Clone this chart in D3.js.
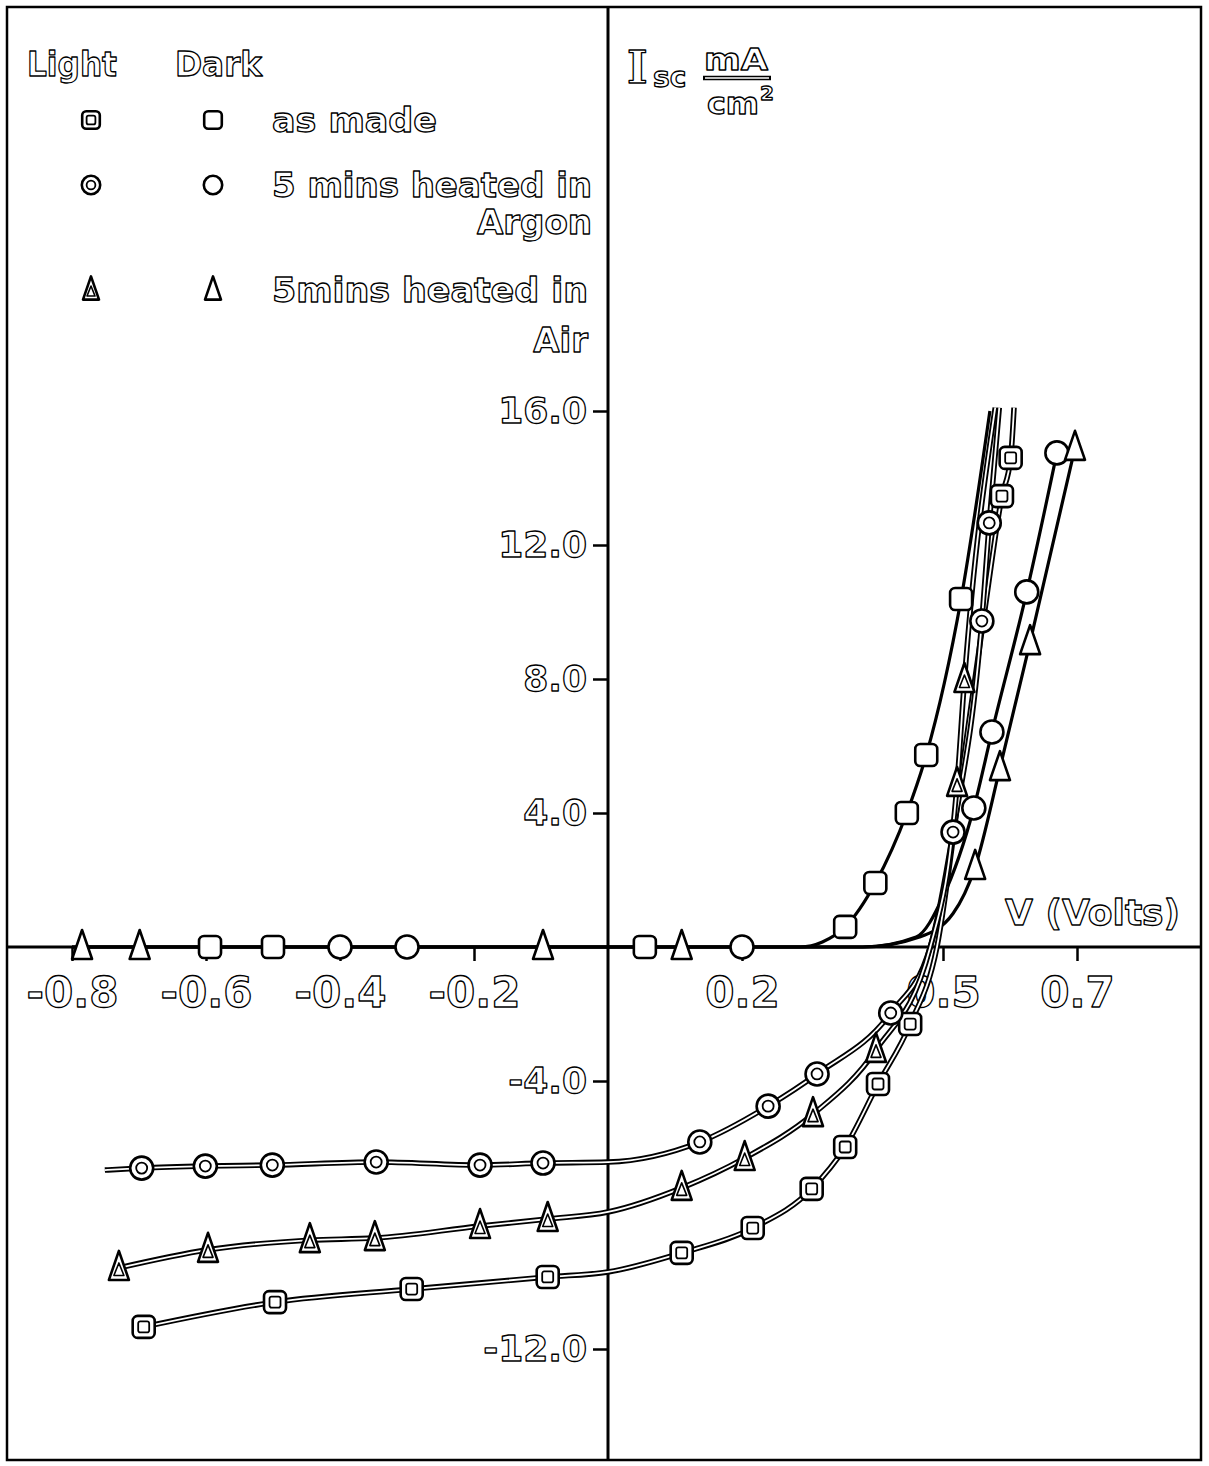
<!DOCTYPE html>
<html><head><meta charset="utf-8">
<script src="https://cdn.jsdelivr.net/npm/d3@7"></script>
<style>
body{margin:0;background:#fff;}
svg{display:block;}
.t{font-family:"DejaVu Sans",sans-serif;font-weight:bold;fill:#fff;stroke:#000;stroke-width:1.3px;stroke-linejoin:round;}
</style></head><body>
<svg id="c" width="1209" height="1466"></svg>
<script>
// ---------- data (V in volts, I in mA/cm^2) ----------
const xTicks = [-0.8, -0.6, -0.4, -0.2, 0.2, 0.5, 0.7];
const xTickLabels = ["-0.8", "-0.6", "-0.4", "-0.2", "0.2", "0.5", "0.7"];
const yTicks = [16, 12, 8, 4, -4, -12];
const yTickLabels = ["16.0", "12.0", "8.0", "4.0", "-4.0", "-12.0"];

const legendTitles = ["Light", "Dark"];
const legendLabels = ["as made", "5 mins heated in", "5mins heated in"];
const legendLabels2 = ["", "Argon", "Air"];

// Dark, as made (squares)
const darkMadeV = [-0.8, -0.594, -0.500, 0.055, 0.287, 0.320, 0.354, 0.399, 0.446, 0.475, 0.527, 0.570];
const darkMadeI = [0, 0, 0, 0, 0, 0.15, 0.60, 1.91, 4.00, 5.73, 10.39, 16.0];
const darkMadeM = [0, 1, 1, 1, 0, 0, 1, 1, 1, 1, 1, 0];
// Dark, 5 min argon (circles)
const darkArgonV = [-0.8, -0.400, -0.300, 0.200, 0.380, 0.460, 0.500, 0.546, 0.573, 0.625, 0.670];
const darkArgonI = [0, 0, 0, 0, 0, 0.3, 1.5, 4.15, 6.42, 10.6, 14.75];
const darkArgonM = [0, 1, 1, 1, 0, 0, 0, 1, 1, 1, 1];
// Dark, 5 min air (triangles)
const darkAirV = [-0.785, -0.699, -0.097, 0.110, 0.380, 0.465, 0.515, 0.548, 0.585, 0.630, 0.697];
const darkAirI = [0, 0, 0, 0, 0, 0.3, 1.0, 2.39, 5.34, 9.10, 14.9];
const darkAirM = [1, 1, 1, 1, 0, 0, 0, 1, 1, 1, 1];
// Light, as made (squares)
const lightMadeV = [-0.693, -0.497, -0.293, -0.090, 0, 0.110, 0.216, 0.304, 0.354, 0.403, 0.451, 0.491, 0.530, 0.562, 0.588, 0.601, 0.606];
const lightMadeI = [-11.34, -10.60, -10.21, -9.85, -9.70, -9.13, -8.39, -7.22, -5.97, -4.09, -2.30, 0, 5.5, 10.0, 13.46, 14.6, 16.1];
const lightMadeM = [1, 1, 1, 1, 0, 1, 1, 1, 1, 1, 1, 0, 0, 0, 1, 1, 0];
// Light, 5 min argon (circles)
const lightArgonV = [-0.751, -0.696, -0.601, -0.501, -0.346, -0.191, -0.097, 0, 0.137, 0.239, 0.312, 0.422, 0.481, 0.515, 0.558, 0.569, 0.584];
const lightArgonI = [-6.66, -6.60, -6.54, -6.51, -6.42, -6.51, -6.45, -6.42, -5.82, -4.75, -3.79, -1.97, 0, 3.43, 9.73, 12.66, 16.1];
const lightArgonM = [0, 1, 1, 1, 1, 1, 1, 0, 1, 1, 1, 1, 0, 1, 1, 1, 0];
// Light, 5 min air (triangles)
const lightAirV = [-0.730, -0.597, -0.445, -0.348, -0.191, -0.090, 0, 0.110, 0.204, 0.306, 0.400, 0.481, 0.521, 0.532, 0.578];
const lightAirI = [-9.58, -9.04, -8.75, -8.69, -8.33, -8.12, -7.91, -7.19, -6.30, -4.99, -3.07, 0, 4.87, 7.97, 16.1];
const lightAirM = [1, 1, 1, 1, 1, 1, 0, 1, 1, 1, 1, 0, 1, 1, 0];

const series = [
  {shape: "square", light: false, V: darkMadeV, I: darkMadeI, M: darkMadeM},
  {shape: "circle", light: false, V: darkArgonV, I: darkArgonI, M: darkArgonM},
  {shape: "triangle", light: false, V: darkAirV, I: darkAirI, M: darkAirM},
  {shape: "square", light: true, V: lightMadeV, I: lightMadeI, M: lightMadeM},
  {shape: "circle", light: true, V: lightArgonV, I: lightArgonI, M: lightArgonM},
  {shape: "triangle", light: true, V: lightAirV, I: lightAirI, M: lightAirM}
];

// ---------- drawing ----------
const svg = d3.select("#c");
const x = d3.scaleLinear().domain([-0.8, 0.7]).range([72, 1077]);
const y = d3.scaleLinear().domain([-12, 16]).range([1349, 411]);
const X0 = x(0), Y0 = y(0);

// frame
svg.append("rect").attr("x", 7).attr("y", 7).attr("width", 1194).attr("height", 1453)
  .attr("fill", "none").attr("stroke", "#000").attr("stroke-width", 2.5);

// axes lines through whole frame
svg.append("line").attr("x1", X0).attr("x2", X0).attr("y1", 7).attr("y2", 1460)
  .attr("stroke", "#000").attr("stroke-width", 3);
svg.append("line").attr("x1", 7).attr("x2", 1201).attr("y1", Y0).attr("y2", Y0)
  .attr("stroke", "#000").attr("stroke-width", 3);

// y axis ticks + labels
const yAxis = d3.axisLeft(y).tickValues(yTicks).tickSize(15).tickPadding(6)
  .tickFormat((d, i) => yTickLabels[i]);
const gy = svg.append("g").attr("transform", `translate(${X0},0)`).call(yAxis);
gy.select(".domain").remove();
gy.selectAll(".tick line").attr("stroke", "#000").attr("stroke-width", 2.5);
gy.selectAll(".tick text").attr("class", "t").style("font-size", "36px");

// x axis ticks + labels
const xAxis = d3.axisBottom(x).tickValues(xTicks).tickSize(14).tickPadding(16)
  .tickFormat((d, i) => xTickLabels[i]);
const gx = svg.append("g").attr("transform", `translate(0,${Y0})`).call(xAxis);
gx.select(".domain").remove();
gx.selectAll(".tick line").attr("stroke", "#000").attr("stroke-width", 2.5);
gx.selectAll(".tick text").attr("class", "t").style("font-size", "42px");

// curves
const line = d3.line().x(d => x(d[0])).y(d => y(d[1])).curve(d3.curveMonotoneX);
series.forEach(s => {
  const pts = s.V.map((v, i) => [v, s.I[i]]);
  if (s.light) {
    svg.append("path").attr("d", line(pts)).attr("fill", "none")
      .attr("stroke", "#000").attr("stroke-width", 5.5).attr("stroke-linejoin", "round");
    svg.append("path").attr("d", line(pts)).attr("fill", "none")
      .attr("stroke", "#fff").attr("stroke-width", 1.8);
  } else {
    svg.append("path").attr("d", line(pts)).attr("fill", "none")
      .attr("stroke", "#000").attr("stroke-width", 3.2);
  }
});

// markers
function marker(g, shape, cx, cy, inner, k) {
  k = k || 1;
  const gg = g.append("g").attr("transform", `translate(${cx},${cy})`);
  const st = (sel, w) => sel.attr("fill", "#fff").attr("stroke", "#000").attr("stroke-width", w).attr("stroke-linejoin", "round");
  if (shape === "square") {
    st(gg.append("rect").attr("x", -11 * k).attr("y", -11 * k).attr("width", 22 * k).attr("height", 22 * k).attr("rx", 5 * k), 2.6);
    if (inner) st(gg.append("rect").attr("x", -5.5 * k).attr("y", -5.5 * k).attr("width", 11 * k).attr("height", 11 * k).attr("rx", 2), 1.8);
  } else if (shape === "circle") {
    st(gg.append("circle").attr("r", 11.5 * k), 2.6);
    if (inner) st(gg.append("circle").attr("r", 5.5 * k), 1.8);
  } else {
    st(gg.append("path").attr("d", `M0,${-17 * k}L${10 * k},${12 * k}L${-10 * k},${12 * k}Z`), 2.6);
    if (inner) st(gg.append("path").attr("d", `M0,${-5 * k}L${5 * k},${7.5 * k}L${-5 * k},${7.5 * k}Z`), 1.6);
  }
}
const gm = svg.append("g");
series.forEach(s => {
  s.V.forEach((v, i) => {
    if (s.M[i]) marker(gm, s.shape, x(v), y(s.I[i]), s.light, 1);
  });
});

// legend
const tg = svg.append("g");
tg.append("text").attr("class", "t").attr("x", 27).attr("y", 76).style("font-size", "34px")
  .attr("textLength", 90).attr("lengthAdjust", "spacingAndGlyphs").text(legendTitles[0]);
tg.append("text").attr("class", "t").attr("x", 175).attr("y", 76).style("font-size", "34px")
  .attr("textLength", 87).attr("lengthAdjust", "spacingAndGlyphs").text(legendTitles[1]);

const legShapes = ["square", "circle", "triangle"];
const legY = [120, 185, 290];
const legTextW = [165, 320, 316];
const legTextRight = [0, 592, 588];
const leg2Y = [0, 234, 352];
legShapes.forEach((sh, i) => {
  marker(tg, sh, 91, legY[i], true, 0.8);
  marker(tg, sh, 213, legY[i], false, 0.8);
  tg.append("text").attr("class", "t").attr("x", 272).attr("y", legY[i] + 12).style("font-size", "34px")
    .attr("textLength", legTextW[i]).attr("lengthAdjust", "spacingAndGlyphs").text(legendLabels[i]);
  if (legendLabels2[i]) {
    tg.append("text").attr("class", "t").attr("x", legTextRight[i]).attr("y", leg2Y[i])
      .attr("text-anchor", "end").style("font-size", "34px").text(legendLabels2[i]);
  }
});

// y-axis title: I_sc mA/cm^2
const yt = svg.append("g");
yt.append("text").attr("class", "t").attr("x", 627).attr("y", 83)
  .style("font-family", "'DejaVu Serif',serif").style("font-size", "44px").text("I");
yt.append("text").attr("class", "t").attr("x", 653).attr("y", 87).style("font-size", "28px").text("sc");
yt.append("text").attr("class", "t").attr("x", 704).attr("y", 70).style("font-size", "30px")
  .attr("textLength", 64).attr("lengthAdjust", "spacingAndGlyphs").text("mA");
yt.append("line").attr("x1", 703).attr("x2", 771).attr("y1", 78).attr("y2", 78)
  .attr("stroke", "#000").attr("stroke-width", 4.5);
yt.append("line").attr("x1", 705).attr("x2", 769).attr("y1", 78).attr("y2", 78)
  .attr("stroke", "#fff").attr("stroke-width", 1.5);
yt.append("text").attr("class", "t").attr("x", 707).attr("y", 114).style("font-size", "30px")
  .attr("textLength", 52).attr("lengthAdjust", "spacingAndGlyphs").text("cm");
yt.append("text").attr("class", "t").attr("x", 760).attr("y", 100).style("font-size", "20px").text("2");

// x-axis title
svg.append("text").attr("class", "t").attr("x", 1005).attr("y", 925).style("font-size", "36px")
  .attr("textLength", 175).attr("lengthAdjust", "spacingAndGlyphs").text("V (Volts)");
</script>
</body></html>
